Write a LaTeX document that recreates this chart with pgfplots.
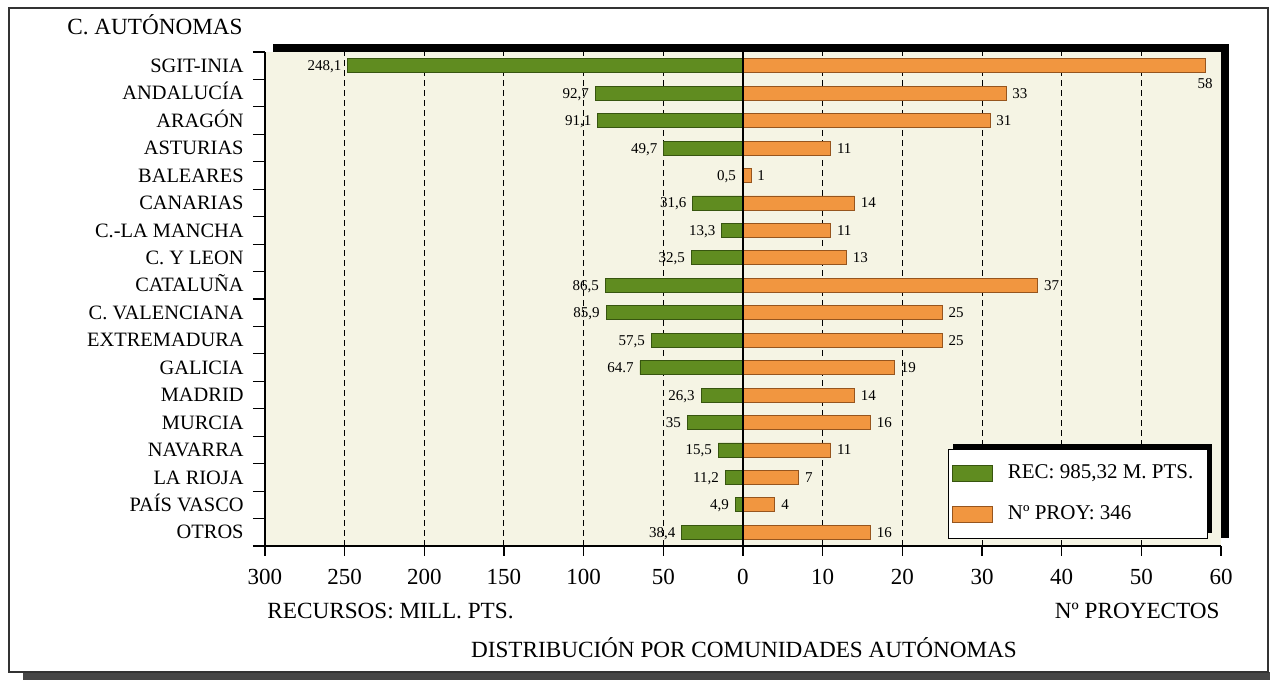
\documentclass[border=0pt]{standalone}
\usepackage{fontspec}
\setmainfont{Liberation Serif}
\usepackage{pgfplots}
\pgfplotsset{compat=1.18}
\usepackage{pgfplotstable}
\definecolor{recgreen}{RGB}{96,140,32}
\definecolor{recedge}{RGB}{55,85,15}
\definecolor{proyorange}{RGB}{241,150,64}
\definecolor{proyedge}{RGB}{150,85,30}
\definecolor{cream}{RGB}{245,244,228}

\pgfplotstableread{
y rec reclab proy proylab
17 248.1 248,1 58 {}
16 92.7 92,7 33 33
15 91.1 91,1 31 31
14 49.7 49,7 11 11
13 0.5 0,5 1 1
12 31.6 31,6 14 14
11 13.3 13,3 11 11
10 32.5 32,5 13 13
9 86.5 86,5 37 37
8 85.9 85,9 25 25
7 57.5 57,5 25 25
6 64.7 64.7 19 19
5 26.3 26,3 14 14
4 35 35 16 16
3 15.5 15,5 11 11
2 11.2 11,2 7 7
1 4.9 4,9 4 4
0 38.4 38,4 16 16
}\datatable

\begin{document}
\begin{tikzpicture}[x=1pt,y=1pt]
\useasboundingbox (0,0) rectangle (635,340);
\fill[gray!55!black] (11.5,0) rectangle (635,4);
\draw[gray!40!black, line width=0.7pt] (4.5,4) rectangle (634,336);
\fill[black] (136.5,71) rectangle (614.5,318);
\begin{axis}[
  at={(132.5pt,67pt)}, anchor=south west,
  scale only axis, width=478pt, height=247pt,
  xmin=-60, xmax=60, ymin=-0.5, ymax=17.5,
  axis background/.style={fill=cream},
  axis x line*=bottom, axis y line*=left,
  axis line style={-, line width=0.6pt},
  tick align=outside,
  xtick={-60,-50,...,60},
  xticklabels={300,250,200,150,100,50,0,10,20,30,40,50,60},
  major tick length=5pt,
  minor tick length=6pt,
  xtick style={line width=0.6pt, black},
  xticklabel style={font=\fontsize{11.5}{13}\selectfont, anchor=base, inner sep=0pt, yshift=-14.5pt},
  /pgf/number format/assume math mode=true,
  extra x ticks={-50,-40,-30,-20,-10,10,20,30,40,50},
  extra x tick labels={},
  extra x tick style={grid=major, major grid style={black, dash pattern=on 3pt off 2pt, line width=0.5pt}, major tick length=0pt},
  ytick={0,...,17},
  yticklabels={OTROS,PAÍS VASCO,LA RIOJA,NAVARRA,MURCIA,MADRID,GALICIA,EXTREMADURA,C. VALENCIANA,CATALUÑA,C. Y LEON,C.-LA MANCHA,CANARIAS,BALEARES,ASTURIAS,ARAGÓN,ANDALUCÍA,SGIT-INIA},
  minor ytick={-0.5,0.5,...,17.5},
  major y tick style={draw=none},
  minor y tick style={line width=0.6pt, black},
  yticklabel style={font=\fontsize{10.2}{12}\selectfont, anchor=east, inner sep=0pt, text height=6.7pt, text depth=0pt, xshift=-5.5pt},
  legend style={at={(0.7144,0.1964)}, anchor=north west, draw=black, line width=0.5pt, fill=white,
    font=\fontsize{10.5}{12}\selectfont, inner xsep=2pt, inner ysep=5.2pt, row sep=7.5pt,
    nodes={inner sep=1.8pt, text height=7.3pt, text depth=2.3pt},
    /tikz/every odd column/.style={column sep=5.5pt}},
  legend cell align=left,
]
\fill[black] (rel axis cs:0.7144,0.1964) ++(2.5pt,2.5pt) rectangle ++(129.5pt,-44.5pt);
\addplot[xbar, bar width=7pt, bar shift=0pt, fill=recgreen, draw=recedge, line width=0.4pt,
  legend image code/.code={\draw[fill=recgreen, draw=recedge, line width=0.4pt] (0pt,-4pt) rectangle (20pt,4pt);},
  nodes near coords, point meta=explicit symbolic,
  every node near coord/.append style={anchor=east, font=\fontsize{7.5}{8}\selectfont, inner sep=0pt, xshift=-3pt, text height=5pt, text depth=0pt, black}]
  table[x expr=-\thisrow{rec}/5, y=y, meta=reclab] {\datatable};
\addlegendentry{\makebox[96pt][l]{REC: 985,32 M. PTS.}}
\addplot[xbar, bar width=7pt, bar shift=0pt, fill=proyorange, draw=proyedge, line width=0.4pt,
  legend image code/.code={\draw[fill=proyorange, draw=proyedge, line width=0.4pt] (0pt,-4pt) rectangle (20pt,4pt);},
  nodes near coords, point meta=explicit symbolic,
  every node near coord/.append style={anchor=west, font=\fontsize{7.5}{8}\selectfont, inner sep=0pt, xshift=3pt, text height=5pt, text depth=0pt, black}]
  table[x=proy, y=y, meta=proylab] {\datatable};
\addlegendentry{\makebox[96pt][l]{Nº PROY: 346}}
\draw[black, line width=0.6pt] (axis cs:0,-0.5) -- (axis cs:0,17.5);
\node[anchor=north, font=\fontsize{7.5}{8}\selectfont, inner sep=0pt, text height=5pt, text depth=0pt] at (axis cs:58,17) [yshift=-6pt] {58};
\end{axis}
\node[anchor=base east, font=\fontsize{11.6}{13}\selectfont, inner sep=0pt] at (121.5,322.5) {C. AUTÓNOMAS};
\node[anchor=base west, font=\fontsize{11.6}{13}\selectfont, inner sep=0pt] at (133.5,30.5) {RECURSOS: MILL. PTS.};
\node[anchor=base east, font=\fontsize{11.6}{13}\selectfont, inner sep=0pt] at (610,30.5) {Nº PROYECTOS};
\node[anchor=base, font=\fontsize{11.6}{13}\selectfont, inner sep=0pt] at (372,11.25) {DISTRIBUCIÓN POR COMUNIDADES AUTÓNOMAS};
\end{tikzpicture}
\end{document}
